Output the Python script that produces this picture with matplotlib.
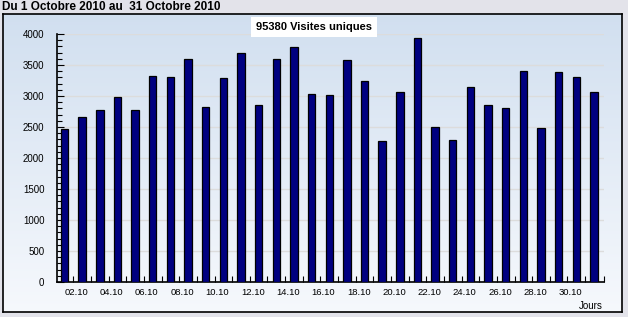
import numpy as np
import matplotlib
matplotlib.use("Agg")
import matplotlib.pyplot as plt

# daily unique visits, October 2010
days = list(range(1, 32))
visites = [2470, 2660, 2770, 2980, 2770, 3320, 3300, 3590, 2830, 3290,
           3690, 2850, 3590, 3790, 3030, 3010, 3580, 3250, 2270, 3060,
           3930, 2500, 2290, 3140, 2850, 2800, 3400, 2480, 3380, 3300, 3060]
tick_days = [2, 4, 6, 8, 10, 12, 14, 16, 18, 20, 22, 24, 26, 28, 30]
tick_labels = ["%02d.10" % d for d in tick_days]
y_ticks = [0, 500, 1000, 1500, 2000, 2500, 3000, 3500, 4000]

W, H = 628, 317
plt.rcParams['font.family'] = ['Liberation Sans', 'DejaVu Sans']
fig = plt.figure(figsize=(W / 100, H / 100), dpi=100)
fig.patch.set_facecolor("#e3e3ea")

# panel with gradient
px0, py0, px1, py1 = 3, 14, 622, 312
bg = fig.add_axes([px0 / W, 1 - py1 / H, (px1 - px0) / W, (py1 - py0) / H])
grad = np.linspace(0, 1, 256).reshape(-1, 1)
top = np.array([0.82, 0.875, 0.94])
bot = np.array([0.965, 0.975, 0.99])
img = top[None, None, :] * (1 - grad[:, :, None]) + bot[None, None, :] * grad[:, :, None]
bg.imshow(img, aspect="auto", extent=[0, 1, 0, 1], origin="upper")
bg.set_xticks([])
bg.set_yticks([])
for s in bg.spines.values():
    s.set_color("black")
    s.set_linewidth(1.2)

# chart axes
ax0, ay0, ax1, ay1 = 57, 34, 604, 282
ax = fig.add_axes([ax0 / W, 1 - ay1 / H, (ax1 - ax0) / W, (ay1 - ay0) / H])
ax.patch.set_alpha(0)
ax.bar(days, visites, width=0.42, color="#000080", edgecolor="black", linewidth=0.9, zorder=3)
ax.set_xlim(0.575, 31.57)
ax.set_ylim(0, 4000)

ax.set_yticks(y_ticks)
ax.set_yticklabels([str(v) for v in y_ticks])
ax.set_yticks(range(0, 4001, 100), minor=True)
ax.yaxis.grid(True, color="#dcdcdc", linewidth=1, zorder=0)

# labels sit a bit left of each even day, small ticks between bars
ax.set_xticks([d - 0.33 for d in tick_days])
ax.set_xticklabels(tick_labels)
ax.set_xticks([d + 0.5 for d in days[:-1]] + [31.55], minor=True)
ax.tick_params(axis="x", which="major", length=0, pad=4, labelsize=6.8)
ax.tick_params(axis="x", which="minor", direction="in", length=4, width=0.8)
ax.tick_params(axis="y", which="major", direction="in", length=5, width=0.8, pad=9, labelsize=7)
ax.tick_params(axis="y", which="minor", direction="in", length=3.5, width=0.8)

ax.spines["top"].set_visible(False)
ax.spines["right"].set_visible(False)
ax.spines["left"].set_linewidth(1.2)
ax.spines["bottom"].set_linewidth(1.2)

fig.text(2 / W, 1 - 7 / H, "Du 1 Octobre 2010 au  31 Octobre 2010",
         fontsize=8.5, fontweight="bold", ha="left", va="center")
fig.text(314 / W, 1 - 27 / H, "95380 Visites uniques", fontsize=8, fontweight="bold",
         ha="center", va="center",
         bbox=dict(boxstyle="square,pad=0.45", facecolor="white", edgecolor="none"))
fig.text(603 / W, 1 - 306 / H, "Jours", fontsize=7, ha="right", va="center")

fig.savefig("out.png", dpi=100, facecolor=fig.get_facecolor())
